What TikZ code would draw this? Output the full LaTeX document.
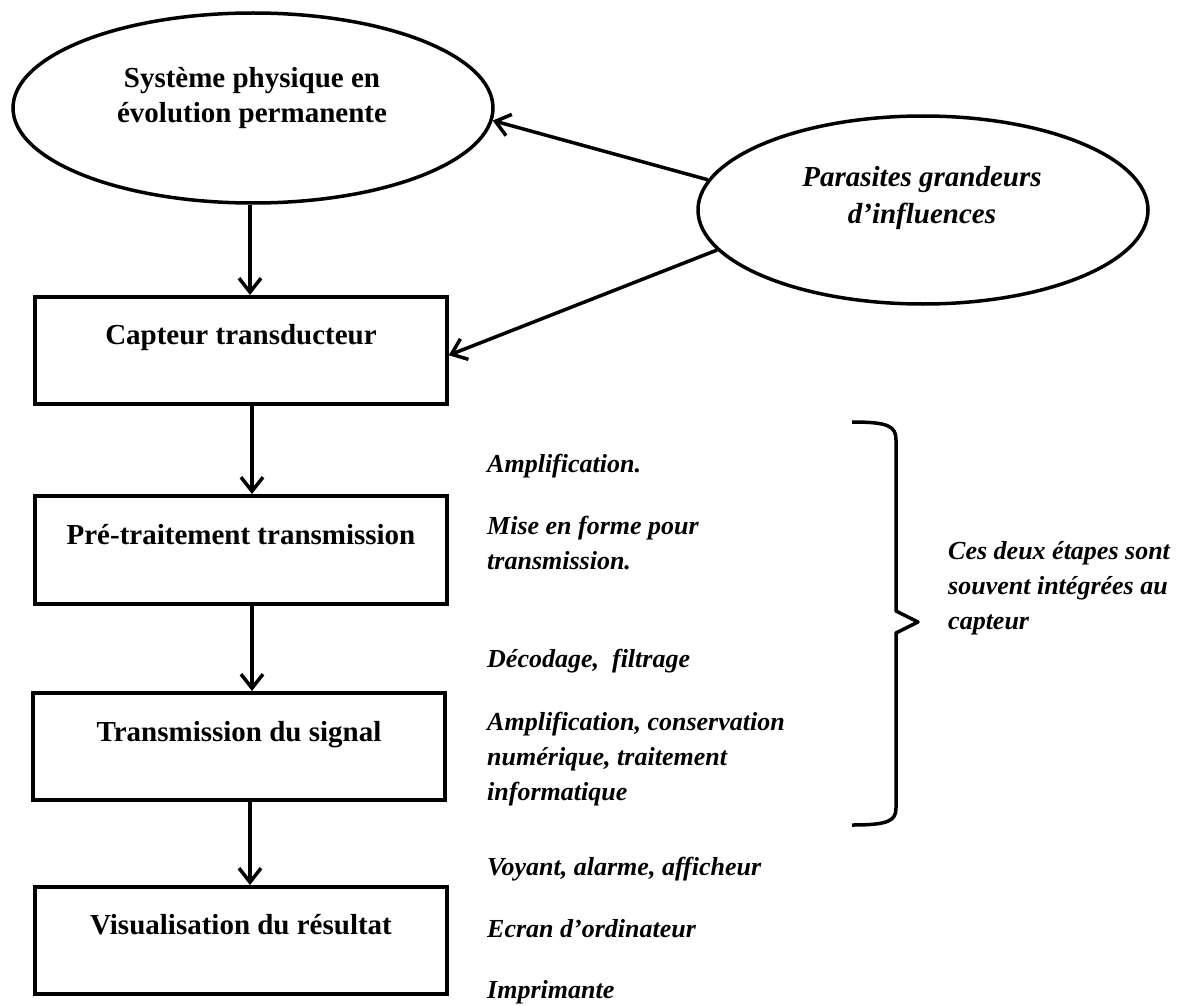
\documentclass[tikz,border=0pt]{standalone}
\usepackage{fontspec}
\setmainfont{Liberation Serif}
\usetikzlibrary{arrows.meta,shapes.geometric}

% multi-line blocks whose baseline is the first line
\newcommand{\rowsC}[1]{\begin{tabular}[t]{@{}c@{}}#1\end{tabular}}
\newcommand{\rowsL}[1]{\begin{tabular}[t]{@{}l@{}}#1\end{tabular}}

\tikzset{
  stagebox/.style={draw, line width=3.5pt, inner sep=0pt, anchor=north,
    minimum width=412pt, text height=48pt, text depth=59pt,
    font=\fontsize{29}{35}\selectfont\bfseries},
  oval/.style={draw, ellipse, line width=3.5pt, inner sep=0pt},
  ovaltext/.style={anchor=base, inner sep=0pt},
  note/.style={anchor=base west, inner sep=0pt,
    font=\fontsize{26}{35}\selectfont\bfseries\itshape},
  flow/.style={line width=3.5pt, -{Straight Barb[length=14pt,width=22pt]}},
  bracket/.style={line width=3.5pt, line join=round}
}

\begin{document}
\begin{tikzpicture}[x=1pt,y=-1pt]
\useasboundingbox (0,0) rectangle (1186,1006);

% ellipses
\node[oval, minimum width=480pt, minimum height=190pt] (sys) at (253,108) {};
\node[ovaltext, font=\fontsize{29}{35}\selectfont\bfseries] (systxt) at (252,88)
  {\rowsC{Système physique en\\évolution permanente}};

\node[oval, minimum width=450pt, minimum height=188pt] (par) at (923,210) {};
\node[ovaltext, font=\fontsize{29}{37}\selectfont\bfseries\itshape] (partxt) at (922,186)
  {\rowsC{Parasites grandeurs\\d’influences}};

% chain of stages
\node[stagebox] (capt) at (241,295) {Capteur transducteur};
\node[stagebox, text height=49pt] (pre) at (241,494) {Pré-traitement transmission};
\node[stagebox, text height=49pt, text depth=58pt] (trans) at (239,691) {Transmission du signal};
\node[stagebox] (visu) at (241,885) {Visualisation du résultat};

% vertical arrows
\draw[flow] ([xshift=-3pt]sys.south) -- ([xshift=-3pt]sys.south |- capt.north);
\draw[flow] ([xshift=11pt]capt.south) -- ([xshift=11pt]capt.south |- pre.north);
\draw[flow] ([xshift=11pt]pre.south) -- ([xshift=11pt]pre.south |- trans.north);
\draw[flow] ([xshift=11pt]trans.south) -- ([xshift=11pt]trans.south |- visu.north);

% influence arrows
\draw[flow] (par.172) -- (sys.357.8);
\draw[flow] (par.191.2) -- ([yshift=-5pt]capt.east);

% side notes
\node[note] (n1) at (487,472) {Amplification.};
\node[note] (n2) at (487,534) {\rowsL{Mise en forme pour\\transmission.}};
\node[note] (n3) at (487,667) {Décodage,\ \ filtrage};
\node[note] (n4) at (487,730) {\rowsL{Amplification, conservation\\numérique, traitement\\informatique}};
\node[note] (n5) at (487,875) {Voyant, alarme, afficheur};
\node[note] (n6) at (487,937) {Ecran d’ordinateur};
\node[note] (n7) at (487,998) {Imprimante};

% bracket grouping the two middle steps
\draw[bracket] (852,422) .. controls (888,422) and (896,426) .. (896,440)
  -- (896,611) -- (918,622) -- (896,633) -- (896,808)
  .. controls (896,821) and (888,825) .. (852,825);
\node[note] (n8) at (948,559) {\rowsL{Ces deux étapes sont\\souvent intégrées au\\capteur}};

\end{tikzpicture}
\end{document}
